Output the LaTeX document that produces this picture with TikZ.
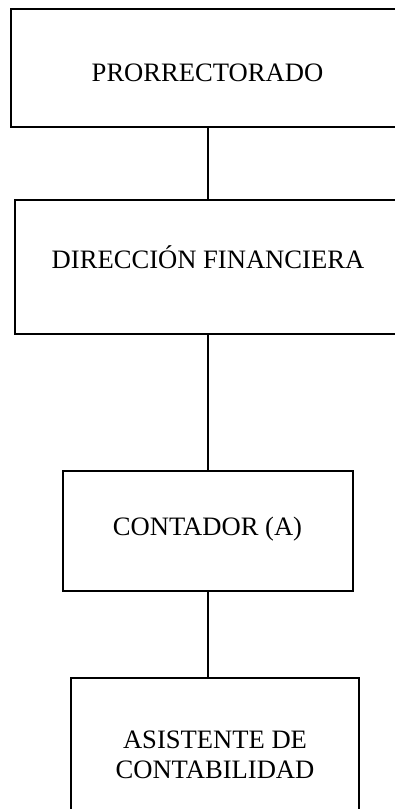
\documentclass[tikz,border=0pt]{standalone}
\usepackage{fontspec}
\setmainfont{Liberation Serif}
\begin{document}
\begin{tikzpicture}[x=1pt,y=-1pt,
  box/.style={draw=black, line width=2pt, rectangle, inner sep=0pt},
  lbl/.style={anchor=base, inner sep=0pt, font=\fontsize{26.6}{30}\selectfont},
  link/.style={draw=black, line width=2.2pt}]
\useasboundingbox (0,0) rectangle (395,809);
\begin{scope}
\clip (0,0) rectangle (395,809);
\node[box, minimum width=394pt, minimum height=118pt] (b1) at (208,68) {};
\node[box, minimum width=386pt, minimum height=134pt] (b2) at (208,267) {};
\node[box, minimum width=290pt, minimum height=120pt] (b3) at (208,531) {};
\node[box, minimum width=288pt, minimum height=140pt] (b4) at (215,748) {};
\end{scope}
\node[lbl] (t1) at (207.5,81.7) {PRORRECTORADO};
\node[lbl] (t2) at (208,268.3) {DIRECCIÓN FINANCIERA};
\node[lbl] (t3) at (207.5,535) {CONTADOR (A)};
\node[lbl] (t4a) at (215,748.3) {ASISTENTE DE};
\node[lbl] (t4b) at (215,778.3) {CONTABILIDAD};
\draw[link] (b1.south) -- (b2.north);
\draw[link] (b2.south) -- (b3.north);
\draw[link] (b3.south) -- (b3.south |- b4.north);
\end{tikzpicture}
\end{document}
